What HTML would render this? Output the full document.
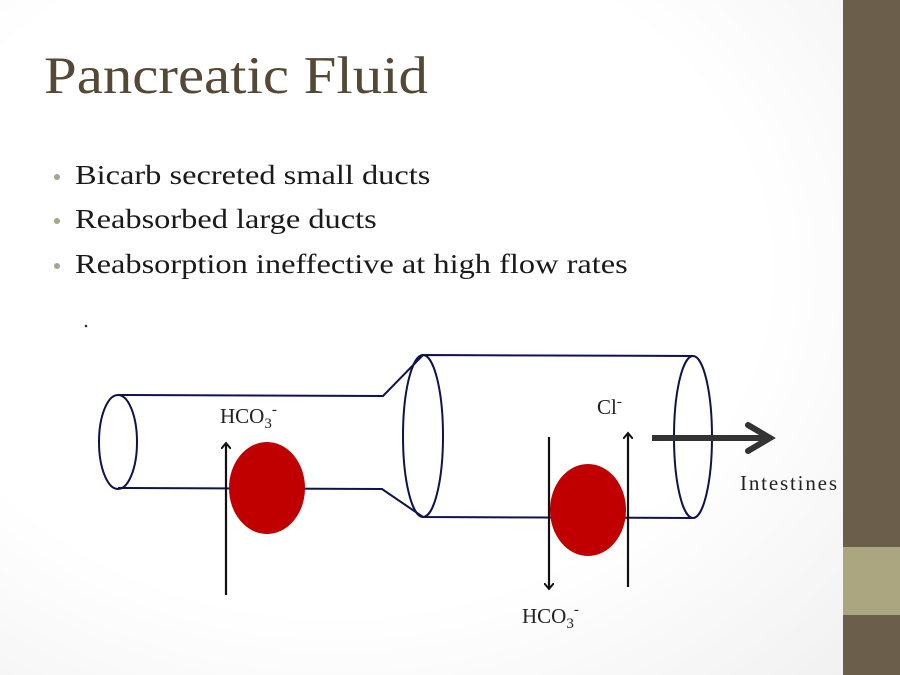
<!DOCTYPE html>
<html><head><style>
body{margin:0;width:900px;height:675px;overflow:hidden;background:#fff;font-family:"Liberation Serif",serif;}
.bg{position:absolute;left:0;top:0;width:843px;height:675px;background:radial-gradient(ellipse at 40% 40%,#fff 60%,#f1f1f1 100%);}
.sb{position:absolute;left:843px;top:0;width:57px;height:675px;background:#6b5e4a;}
.sb2{position:absolute;left:843px;top:547px;width:57px;height:68px;background:#aba67f;}
.t{position:absolute;left:44px;top:46px;font-size:53px;color:#554836;transform:scaleX(1.11);transform-origin:left;white-space:nowrap;}
.b{position:absolute;left:75px;font-size:27px;color:#1a1a1a;transform:scaleX(1.2);transform-origin:left;white-space:nowrap;}
.d{position:absolute;left:54px;width:6px;height:6px;border-radius:50%;background:#9ea88a;}
</style></head><body>
<div class="bg"></div><div class="sb"></div><div class="sb2"></div>
<div class="t">Pancreatic Fluid</div>
<div class="d" style="top:174px"></div><div class="b" style="top:160px">Bicarb secreted small ducts</div>
<div class="d" style="top:218px"></div><div class="b" style="top:204px">Reabsorbed large ducts</div>
<div class="d" style="top:263px"></div><div class="b" style="top:249px">Reabsorption ineffective at high flow rates</div>
<svg width="900" height="675" style="position:absolute;left:0;top:0">
<defs><marker id="a" markerWidth="10" markerHeight="10" refX="5" refY="5" orient="auto" markerUnits="userSpaceOnUse"><path d="M0,0 L6,5 L0,10" fill="none" stroke="#111" stroke-width="2"/></marker></defs>
<circle cx="86" cy="326" r="1.3" fill="#333"/>
<g fill="none" stroke="#0f1250" stroke-width="2">
<ellipse cx="118" cy="442" rx="19" ry="47"/>
<path d="M118 395 L383 396 L423 355 L693 356 M118 488 L382 489 L423 517 L693 518"/>
<ellipse cx="423" cy="436" rx="20" ry="81"/>
<ellipse cx="693" cy="437" rx="19" ry="81"/>
</g>
<ellipse cx="267" cy="488" rx="38" ry="46" fill="#c00000"/>
<ellipse cx="588" cy="510" rx="38" ry="46" fill="#c00000"/>
<g stroke="#111" stroke-width="2.2" fill="none">
<line x1="226" y1="595" x2="226" y2="444" marker-end="url(#a)"/>
<line x1="549" y1="437" x2="549" y2="588" marker-end="url(#a)"/>
<line x1="628" y1="587" x2="628" y2="434" marker-end="url(#a)"/>
</g>
<line x1="652" y1="438" x2="768" y2="438" stroke="#333" stroke-width="6"/>
<path d="M748 425 L770 438 L748 451" fill="none" stroke="#333" stroke-width="6" stroke-linecap="round"/>
<g font-family="Liberation Serif,serif" font-size="21" fill="#222">
<text x="220" y="423">HCO<tspan font-size="15" dy="5">3</tspan><tspan font-size="15" dy="-14">-</tspan></text>
<text x="597" y="414">Cl<tspan font-size="15" dy="-8">-</tspan></text>
<text x="522" y="623">HCO<tspan font-size="15" dy="5">3</tspan><tspan font-size="15" dy="-14">-</tspan></text>
<text x="740" y="490" textLength="97">Intestines</text>
</g>
</svg>
</body></html>
